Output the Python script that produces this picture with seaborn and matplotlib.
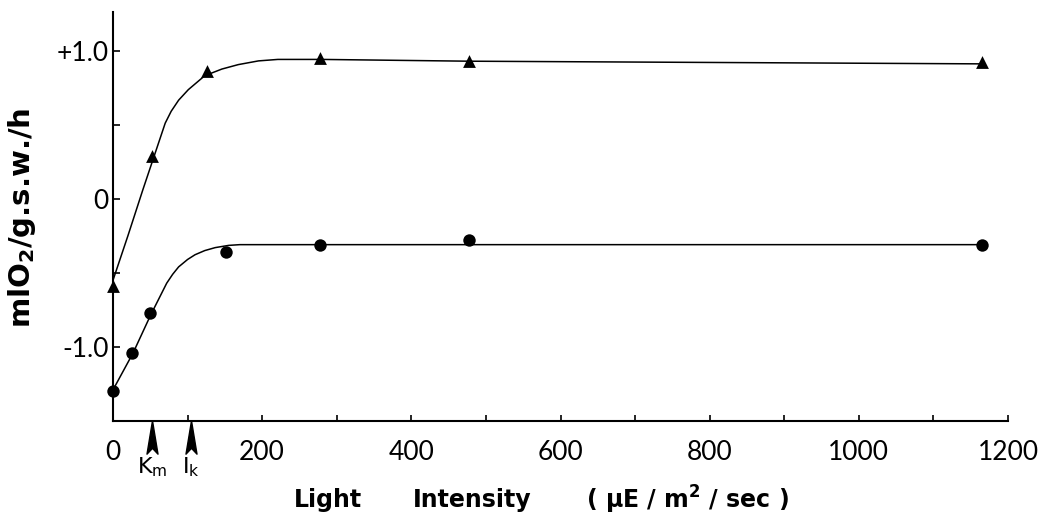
import matplotlib
matplotlib.use("Agg")
import matplotlib.pyplot as plt
from matplotlib.path import Path
import matplotlib.transforms as mtransforms
import seaborn as sns
import pandas as pd

# ---- data ----
tri_x = [0, 52, 126, 277, 477, 1165]
tri_y = [-0.59, 0.29, 0.865, 0.95, 0.93, 0.92]

circ_x = [0, 26, 50, 151, 277, 477, 1165]
circ_y = [-1.30, -1.04, -0.77, -0.36, -0.31, -0.28, -0.31]

top_curve_x = [0, 20, 40, 60, 70, 78, 88, 101, 123, 146, 168, 195, 221, 280, 477, 1165]
top_curve_y = [-0.55, -0.25, 0.06, 0.36, 0.51, 0.59, 0.665, 0.736, 0.83, 0.875, 0.905, 0.93, 0.94, 0.94, 0.928, 0.91]

bot_curve_x = [0, 27, 50, 65, 72, 80, 88, 100, 110, 123, 137, 155, 170, 1165]
bot_curve_y = [-1.29, -1.04, -0.79, -0.64, -0.57, -0.51, -0.46, -0.41, -0.378, -0.35, -0.33, -0.315, -0.31, -0.31]

arrow_x = [52, 105]
arrow_labels = ["K$_\\mathrm{m}$", "I$_\\mathrm{k}$"]

x_ticks = list(range(0, 1300, 100))
x_ticklabels = [str(t) if t % 200 == 0 else "" for t in x_ticks]
y_ticks = [-1.0, -0.5, 0.0, 0.5, 1.0]
y_ticklabels = ["-1.0", "", "0", "", "+1.0"]

xlabel_words = ["Light", "Intensity", "( \u03bcE / m$^2$ / sec )"]
xlabel_centers = [328, 472, 687]  # pixel centres of the words
ylabel_text = "mlO$_2$/g.s.w./h"

# ---- styling ----
sns.set_style("ticks", rc={"text.color": "black", "axes.labelcolor": "black",
                           "xtick.color": "black", "ytick.color": "black",
                           "axes.edgecolor": "black"})
plt.rcParams["font.family"] = ["DejaVu Sans"]
plt.rcParams["mathtext.default"] = "bf"
plt.rcParams["mathtext.fontset"] = "dejavusans"

W, H = 1045, 517
fig = plt.figure(figsize=(W / 100, H / 100), dpi=100)
ax = fig.add_axes([113 / W, 1 - 421 / H, (1008 - 113) / W, (421 - 12) / H])

top_df = pd.DataFrame({"x": top_curve_x, "y": top_curve_y})
bot_df = pd.DataFrame({"x": bot_curve_x, "y": bot_curve_y})
tri_df = pd.DataFrame({"x": tri_x, "y": tri_y})
circ_df = pd.DataFrame({"x": circ_x, "y": circ_y})

sns.lineplot(data=top_df, x="x", y="y", ax=ax, color="black", linewidth=1.1,
             sort=False, estimator=None)
sns.lineplot(data=bot_df, x="x", y="y", ax=ax, color="black", linewidth=1.1,
             sort=False, estimator=None)
sns.scatterplot(data=tri_df, x="x", y="y", ax=ax, marker="^", s=85, color="black",
                edgecolor="black", linewidth=0, clip_on=False, zorder=5)
sns.scatterplot(data=circ_df, x="x", y="y", ax=ax, marker="o", s=80, color="black",
                edgecolor="black", linewidth=0, clip_on=False, zorder=5)

ax.set_xlim(0, 1200)
ax.set_ylim(-1.5, 1.26)
ax.set_xlabel("")
ax.set_ylabel("")

for s in ["top", "right"]:
    ax.spines[s].set_visible(False)
for s in ["left", "bottom"]:
    ax.spines[s].set_linewidth(1.5)
    ax.spines[s].set_color("black")

tick_font = dict(family=["Lato", "DejaVu Sans"], size=19, weight="normal")
ax.set_xticks(x_ticks)
ax.set_xticklabels(x_ticklabels, fontdict=tick_font)
ax.set_yticks(y_ticks)
ax.set_yticklabels(y_ticklabels, fontdict=tick_font)
ax.tick_params(axis="x", direction="in", length=4.5, width=1.2, pad=14, colors="black")
ax.tick_params(axis="y", direction="in", length=5, width=1.2, pad=3, colors="black")

# Km / Ik arrows below the axis
dart = Path([(0, 1), (-0.33, -1), (0, -0.65), (0.33, -1), (0, 1)],
            [Path.MOVETO, Path.LINETO, Path.LINETO, Path.LINETO, Path.CLOSEPOLY])
trans = mtransforms.blended_transform_factory(ax.transData, ax.transAxes)
for xv, lab in zip(arrow_x, arrow_labels):
    ax.plot([xv], [-0.038], marker=dart, markersize=24, color="black",
            transform=trans, clip_on=False, linestyle="none")
    ax.text(xv, -0.083, lab, transform=trans, ha="center", va="top",
            fontsize=16, fontweight="normal", family="DejaVu Sans", color="black")

# axis titles
fig.text(0.021, 0.578, ylabel_text, rotation=90, ha="center", va="center",
         fontsize=21, fontweight="bold", color="black")
for word, cx in zip(xlabel_words, xlabel_centers):
    fig.text(cx / W, 1 - 500 / H, word, ha="center", va="center",
             fontsize=17, fontweight="bold", color="black")

fig.savefig("out.png", dpi=100, facecolor="white")
